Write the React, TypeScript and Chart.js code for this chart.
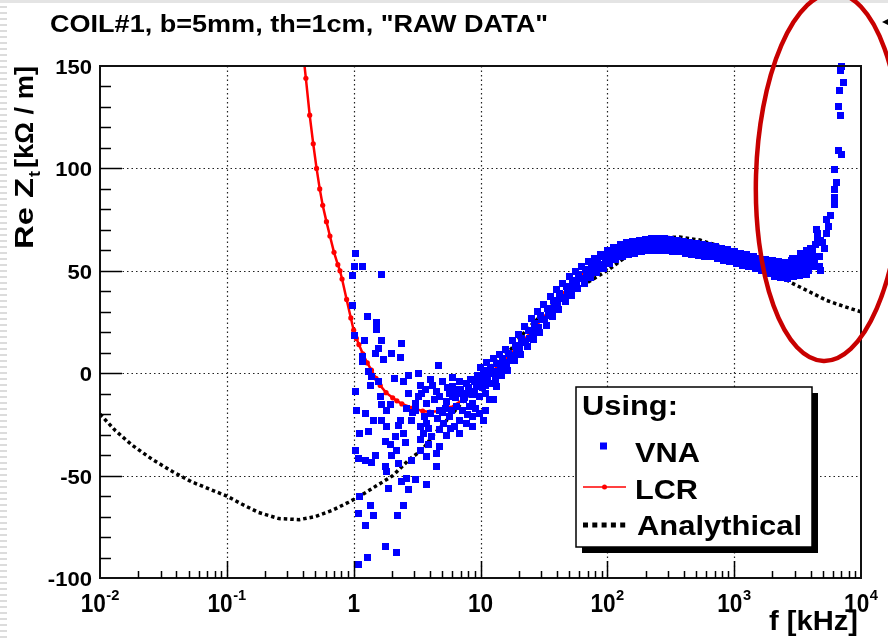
import React, { useEffect, useRef } from "react";
import { Chart, registerables } from "chart.js";

Chart.register(...registerables);

const TITLE = 'COIL#1, b=5mm, th=1cm, "RAW DATA"';
const X_MIN = 0.01;
const X_MAX = 10000;
const Y_MIN = -100;
const Y_MAX = 150;
const xMajorTicks = [0.01, 0.1, 1, 10, 100, 1000, 10000];
const xTickBase = ["10", "10", "1", "10", "10", "10", "10"];
const xTickExp = ["-2", "-1", "", "", "2", "3", "4"];
const yMajorTicks = [-100, -50, 0, 50, 100, 150];
const yTickLabels = ["-100", "-50", "0", "50", "100", "150"];
const legendTitle = "Using:";
const legendLabels = ["VNA", "LCR", "Analythical"];

// VNA (blue squares): [f kHz, Re Zt kOhm/m]
const vnaNoisy: number[][] = [
  [1.04, 58.5], [1.01, 52.3], [1.18, 52.3], [0.986, 47.5], [1.67, 48.3], [0.986, 33.3],
  [1.29, 27.9], [1.52, 24.9], [1.52, 21.1], [1.01, 18.6], [1.21, 16.2], [1.67, 16.2],
  [2.39, 14.6], [1.58, 12.2], [1.48, 9.7], [1.98, 9.4], [2.36, 7.6], [1.72, 6.9],
  [1.18, 8.1], [1.18, 5.6], [4.7, 4.0], [1.31, 0.7], [1.39, -1.7], [2.08, -2.5],
  [2.7, -0.9], [3.24, 0], [2.47, -4.1], [4.01, -3.3], [1.35, -5.8], [3.35, -6.2],
  [1.58, -4.1], [1.04, -9], [2.7, -9.8], [3.24, -11.5], [1.62, -11.5], [4.79, -11.5],
  [6.03, -6.6], [1.67, -15.5], [1.94, -15.5], [3.05, -14.7], [1.06, -18], [1.23, -19.6],
  [1.82, -18], [1.43, -22.9], [1.67, -22.9], [2.33, -22.9], [2.88, -22.9], [3.35, -26.1],
  [1.82, -26.1], [2.25, -25.3], [1.12, -29.3], [1.31, -28.6], [2.12, -31], [2.47, -29.3],
  [3.55, -29.3], [1.77, -33.4], [2.55, -33.9], [1.94, -35], [3.89, -35], [1.03, -37.5],
  [2.19, -37.5], [3.35, -37.5], [1.48, -40], [1.1, -41.5], [2.0, -40], [1.23, -42.4],
  [1.39, -43.7], [2.88, -42.4], [1.77, -45.6], [2.25, -44.3], [4.47, -45.6], [1.82, -48],
  [2.63, -51.3], [3.05, -52.1], [2.4, -53], [3.74, -54.3], [1.88, -56.2], [2.7, -57],
  [1.12, -60.3], [1.35, -64.4], [2.47, -64.4], [1.1, -68.4], [1.43, -69.7], [2.21, -69.7],
  [1.23, -74.6], [1.77, -84.4], [2.17, -87.6], [1.29, -90], [1.1, -93.2],
  [4.79, -18], [5.7, -21.3], [6.84, -22.9], [7.71, -24.5], [3.78, -24.5], [4.79, -27.7],
  [5.37, -30.3], [3.35, -32.6], [4.79, -35.9], [4.47, -39], [3.78, -40.8], [8.71, -14.7],
  [9.77, -11.5], [10.96, -18], [8.71, -26.1], [6.84, -29.3], [6.03, -11.5], [7.71, -9.8],
  [10.96, -9.8], [12.6, -13], [6.84, -9.8], [8.13, -16.4], [9.77, -19.6], [11.7, -13],
  [6.5, -8], [7.7, -5], [9.3, -6.6], [10.5, -2.5], [12.6, 0], [15.1, 3.2], [13.4, -6.6],
  [8.7, -10.6], [3.1, -18], [4.0, -19.6], [5.1, -24.4], [6.5, -16.4], [8.7, -21.3],
  [10.5, -22.9], [5.7, -9.8], [3.78, -14.7], [7.2, -18], [5.4, -14], [6.2, -26],
  [4.3, -13], [9.2, -17], [7.3, -13], [5.0, -19], [3.6, -21], [8.1, -7],
  [3.4, -10], [3.7, -8], [4.2, -6], [4.5, -9], [5.0, -4], [5.5, -7], [6.0, -2],
  [6.8, -4], [7.5, -12], [8.4, -3], [9.0, -9], [3.9, -27], [4.6, -22], [5.3, -17],
  [5.9, -18], [6.3, -12], [7.0, -8], [7.9, -20], [8.9, -4], [9.5, -1], [11, -6],
  [4.1, -31], [5.8, -27], [2.9, -19], [2.6, -17],
];

const vnaBand: number[][] = [
  [10.0, 3], [10.4, -7], [10.8, -1], [11.2, 5], [11.7, -5], [12.1, 1],
  [12.6, 7], [13.1, -3], [13.6, 1], [14.1, 9], [14.7, -1], [15.2, 5],
  [15.8, 11.5], [16.4, 1.5], [17.1, 6], [17.8, 16], [18.5, 6], [19.2, 12],
  [20.0, 19], [20.8, 9], [21.6, 15], [22.4, 23], [23.3, 13], [24.2, 17],
  [25.1, 26.5], [26.1, 16.5], [27.1, 22.5], [28.2, 30], [29.3, 20], [30.4, 26],
  [31.6, 33.5], [32.9, 23.5], [34.1, 28], [35.5, 37.5], [36.9, 27.5], [38.3, 33.5],
  [39.8, 41], [41.4, 31], [43.0, 36.5], [44.7, 44], [46.5, 35], [48.3, 40],
  [50.1, 47], [52.1, 38], [54.1, 43], [56.2, 49.5], [58.4, 41.5], [60.7, 46],
  [63.1, 52], [65.6, 44], [68.1, 48.5], [70.8, 54.5], [73.6, 46.5], [76.5, 51],
  [79.4, 56], [82.6, 49], [85.8, 53], [89.1, 58], [92.7, 51], [96.2, 55],
  [100, 60], [104, 53.5], [108, 57], [112, 61.5], [116, 55.5], [121, 59],
  [126, 63], [131, 57], [136, 60.5], [141, 64], [147, 58], [152, 61.5],
  [158, 64.5], [164, 58.5], [171, 62], [178, 65], [185, 59.5], [192, 62.5],
  [200, 65.5], [208, 60], [216, 63], [224, 66], [233, 60], [242, 63.5],
  [251, 66], [261, 60], [271, 63], [282, 66], [293, 60], [305, 63.5],
  [316, 65.5], [329, 59.5], [341, 63], [355, 65], [369, 59.5], [383, 62.5],
  [398, 64.5], [414, 58.5], [430, 62], [447, 64], [465, 58], [483, 61.5],
  [501, 63.5], [521, 57.5], [541, 61], [562, 63], [584, 57], [607, 60.5],
  [631, 62.5], [656, 57], [681, 60], [708, 62], [736, 56], [765, 59.5],
  [794, 61], [826, 55], [858, 58.5], [891, 60.5], [927, 54.5], [962, 57.5],
  [1000, 59.5], [1040, 53.5], [1080, 57], [1122, 58.5], [1167, 52.5], [1212, 56],
  [1259, 58], [1309, 52], [1360, 55], [1413, 57], [1470, 51], [1526, 54.5],
  [1585, 56], [1648, 50], [1712, 53.5], [1778, 55.5], [1849, 48.5], [1920, 52],
  [1995, 55], [2075, 47], [2155, 51.5], [2239, 54.5], [2329, 46.5], [2418, 50],
  [2512, 54], [2612, 46], [2713, 50.5], [2818, 55], [2931, 47], [3043, 51],
  [3162, 56], [3289, 47.5], [3415, 52], [3548, 57], [3690, 48], [3832, 53],
];

const vnaBandFill: number[][] = [
  [10.2, -4], [10.6, 1.5], [11.4, -2], [11.9, 3], [12.9, 0], [13.4, 4.5],
  [14.4, 2], [14.9, 7], [16.1, 4], [16.7, 9.5], [18.2, 8.5], [18.9, 13.5],
  [20.4, 11.5], [21.2, 17], [22.8, 15.5], [23.7, 21], [25.6, 19], [26.6, 24.5],
  [28.8, 22.5], [29.9, 28], [32.2, 26], [33.5, 31.5], [36.2, 30], [37.6, 35.5],
  [40.6, 33.5], [42.2, 39], [45.6, 37], [47.4, 42.5], [51.1, 40], [53.1, 45.5],
  [57.3, 43], [59.6, 48], [64.4, 46], [66.9, 50.5], [72.2, 48.5], [75.0, 53],
  [81.0, 50.5], [84.2, 55], [90.9, 52.5], [94.4, 57], [102, 54.5], [106, 59],
  [114, 56.5], [119, 60.5], [128, 58.5], [134, 62], [144, 59.5], [149, 63],
  [161, 60.5], [167, 64], [182, 61], [189, 64.5], [204, 61.5], [212, 65],
  [228, 61.5], [237, 65], [256, 61.5], [266, 65], [288, 61.5], [299, 64.5],
  [322, 61], [335, 64], [362, 60.5], [376, 63.5], [406, 60], [422, 63],
  [456, 59.5], [474, 62.5], [511, 59], [531, 62], [573, 58.5], [596, 61.5],
  [644, 58], [669, 61], [722, 57.5], [750, 60.5], [810, 56.5], [842, 59.5],
  [909, 55.5], [944, 59], [1020, 55], [1060, 58], [1144, 54], [1190, 57.5],
  [1284, 53.5], [1335, 56.5], [1441, 52.5], [1498, 55.5], [1617, 51.5], [1680, 54.5],
  [1814, 50.5], [1885, 53.5], [2035, 49], [2115, 53], [2284, 48.5], [2374, 52.5],
  [2562, 48], [2663, 52], [2874, 48.5], [2987, 53], [3225, 49], [3352, 54],
  [3619, 50], [3761, 55],
];

const vnaRise: number[][] = [
  [4074, 53.6], [4169, 61], [4571, 68], [4677, 57], [5129, 61], [5370, 68],
  [5495, 71.5], [5754, 77], [6166, 82.6], [6166, 86], [6166, 89.5], [6166, 99.5],
  [6457, 93], [6607, 108.6], [7079, 107], [6607, 130], [6918, 126], [6761, 138],
  [7244, 142], [6918, 148], [7079, 150], [5370, 75], [4467, 70], [4571, 66],
  [3981, 52], [4266, 55], [4169, 58], [3890, 50], [4365, 63], [4786, 65],
  [5012, 64], [3715, 54], [3981, 57], [3311, 58.5], [3715, 60], [4677, 52],
  [4786, 50], [2884, 56], [3981, 61], [4365, 57], [4266, 52], [3467, 52],
];

// LCR (red line)
const lcrFreq = [
  0.405, 0.42, 0.45, 0.48, 0.51, 0.54, 0.57, 0.61, 0.65, 0.7, 0.75, 0.78, 0.81, 0.88,
  0.95, 1.0, 1.05, 1.1, 1.18, 1.28, 1.38, 1.5, 1.62, 1.8, 2.03, 2.19, 2.4, 2.92, 3.5,
  3.98, 4.8, 5.73, 7.25, 8.5, 10, 12, 14.5, 17, 20, 25, 30, 38, 46, 55, 65, 80, 100,
  130, 170, 220, 280, 350, 450, 600, 800, 1000, 1300, 1700, 2100,
];
const lcrZ = [
  153, 144, 126, 112, 100, 90, 82, 74, 67, 59, 53, 50, 46, 36,
  27, 21, 17, 14, 9.5, 5, 1.5, -2.5, -6, -9.5, -12, -13.5, -15, -17, -18.5,
  -19, -18.5, -17, -13, -9, -4.5, 0, 5, 9, 13.5, 20, 26, 33, 39, 44.5, 48.5, 52.5, 55.5,
  58, 59.5, 60.5, 60.5, 60, 59, 58, 56.5, 55, 53, 51, 49.5,
];

// Analytical (black dotted)
const anaFreq = [
  0.01, 0.0132, 0.0178, 0.0257, 0.0372, 0.0525, 0.0759, 0.1, 0.132, 0.178, 0.257, 0.372,
  0.5, 0.676, 0.912, 1.12, 1.51, 2.04, 2.75, 3.47, 4.27, 5.89, 8.71, 12.9, 17.0, 22.9,
  30.9, 39.8, 56.2, 77.6, 105, 141, 191, 257, 372, 537, 724, 1000, 1413, 1995, 2754,
  3715, 5370, 7413, 10000,
];
const anaZ = [
  -20, -28, -35, -42, -48, -53, -57, -60, -64, -68, -71, -71.5,
  -70, -67, -63, -60, -55, -50, -42, -37.5, -30, -20.5, -8, 5, 11, 21,
  29, 35, 41, 46, 51, 57, 62, 66, 66.5, 65, 62.5, 59, 56, 51, 44.5,
  40.5, 35.5, 32.5, 30,
];

const FONT = '"Liberation Sans", Arial, Helvetica, sans-serif';
const font = (s: number) => `bold ${s}px ${FONT}`;

function drawText(
  ctx: CanvasRenderingContext2D,
  s: string,
  x: number,
  y: number,
  size: number,
  align: "left" | "right" | "center",
  width?: number,
  sx = 1
) {
  ctx.font = font(size);
  const w = ctx.measureText(s).width;
  const k = width ? width / w : sx;
  const dw = w * k;
  const x0 = align === "left" ? x : align === "right" ? x - dw : x - dw / 2;
  ctx.save();
  ctx.translate(x0, y);
  ctx.scale(k, 1);
  ctx.textAlign = "left";
  ctx.textBaseline = "alphabetic";
  ctx.fillText(s, 0, 0);
  ctx.restore();
  return dw;
}

const rootStyle = {
  id: "rootStyle",
  beforeDraw(chart: any) {
    const ctx: CanvasRenderingContext2D = chart.ctx;
    ctx.save();
    ctx.fillStyle = "#ffffff";
    ctx.fillRect(0, 0, chart.width, chart.height);
    ctx.fillStyle = "#e4e4e4";
    ctx.fillRect(0, 0, chart.width, 3);
    ctx.fillStyle = "#dcdcdc";
    for (let y = 6; y < chart.height; y += 6) ctx.fillRect(0, y, 7, 2);
    ctx.restore();
  },
  beforeDatasetsDraw(chart: any) {
    const ctx: CanvasRenderingContext2D = chart.ctx;
    const { left, right, top, bottom } = chart.chartArea;
    const xs = chart.scales.x;
    const ys = chart.scales.y;
    ctx.save();
    ctx.strokeStyle = "#222";
    ctx.lineWidth = 1.2;
    ctx.setLineDash([1.5, 3]);
    xMajorTicks.forEach((v) => {
      if (v <= X_MIN || v >= X_MAX) return;
      const px = Math.round(xs.getPixelForValue(v)) + 0.5;
      ctx.beginPath();
      ctx.moveTo(px, top);
      ctx.lineTo(px, bottom);
      ctx.stroke();
    });
    yMajorTicks.forEach((v) => {
      if (v <= Y_MIN || v >= Y_MAX) return;
      const py = Math.round(ys.getPixelForValue(v)) + 0.5;
      ctx.beginPath();
      ctx.moveTo(left, py);
      ctx.lineTo(right, py);
      ctx.stroke();
    });
    ctx.restore();
  },
  afterDraw(chart: any) {
    const ctx: CanvasRenderingContext2D = chart.ctx;
    const { left, right, top, bottom } = chart.chartArea;
    const xs = chart.scales.x;
    const ys = chart.scales.y;
    ctx.save();
    // frame
    ctx.strokeStyle = "#111";
    ctx.lineWidth = 2;
    ctx.strokeRect(left, top, right - left, bottom - top);
    // ticks
    ctx.lineWidth = 1.5;
    ctx.strokeStyle = "#000";
    ctx.beginPath();
    for (let d = 0.01; d < X_MAX; d *= 10) {
      for (let m = 1; m <= 9; m++) {
        const v = d * m;
        if (v <= X_MIN * 1.001 || v >= X_MAX * 0.999) continue;
        const px = Math.round(xs.getPixelForValue(v)) + 0.5;
        const len = m === 1 ? 17 : 7;
        ctx.moveTo(px, bottom);
        ctx.lineTo(px, bottom - len);
      }
    }
    for (let v = Y_MIN + 10; v < Y_MAX; v += 10) {
      const py = Math.round(ys.getPixelForValue(v)) + 0.5;
      const len = v % 50 === 0 ? 22 : 11;
      ctx.moveTo(left, py);
      ctx.lineTo(left + len, py);
    }
    ctx.stroke();

    ctx.fillStyle = "#000";
    // y tick labels
    yMajorTicks.forEach((v, i) => {
      const py = ys.getPixelForValue(v);
      drawText(ctx, yTickLabels[i], 92, py + 8, 21, "right", undefined, 1.05);
    });
    // x tick labels
    xMajorTicks.forEach((v, i) => {
      const px = xs.getPixelForValue(v);
      ctx.font = font(26);
      const bw = ctx.measureText(xTickBase[i]).width * 0.87;
      let ew = 0;
      if (xTickExp[i]) {
        ctx.font = font(14);
        ew = ctx.measureText(xTickExp[i]).width * 1.05 + 0.5;
      }
      const x0 = px - (bw + ew) / 2;
      drawText(ctx, xTickBase[i], x0, 611.5, 26, "left", undefined, 0.87);
      if (xTickExp[i]) drawText(ctx, xTickExp[i], x0 + bw + 0.5, 599.5, 14, "left", undefined, 1.05);
    });
    // title
    drawText(ctx, TITLE, 50, 32, 23, "left", 498);
    // x axis title
    drawText(ctx, "f [kHz]", 858, 630, 27, "right", 89);
    // y axis title (rotated)
    ctx.save();
    ctx.translate(33, 249);
    ctx.rotate(-Math.PI / 2);
    drawText(ctx, "Re Z", 0, 0, 25, "left", 71);
    drawText(ctx, "t", 72, 7, 16, "left", 6);
    drawText(ctx, "[k\u03A9 / m]", 81, 0, 25, "left", 102);
    ctx.restore();

    // legend with shadow
    const lx = 576, ly = 387, lw = 236, lh = 160;
    ctx.fillStyle = "#000";
    ctx.fillRect(lx + 6, ly + 6, lw, lh);
    ctx.fillStyle = "#fff";
    ctx.fillRect(lx, ly, lw, lh);
    ctx.strokeStyle = "#000";
    ctx.lineWidth = 1.5;
    ctx.strokeRect(lx, ly, lw, lh);
    ctx.fillStyle = "#000";
    drawText(ctx, legendTitle, 582, 415, 27, "left", 96);
    ctx.fillStyle = "#0000ff";
    ctx.fillRect(600, 442.5, 7, 7);
    ctx.fillStyle = "#000";
    drawText(ctx, legendLabels[0], 635, 461.5, 28, "left", 65);
    ctx.strokeStyle = "#ff0000";
    ctx.lineWidth = 1.5;
    ctx.beginPath();
    ctx.moveTo(583, 487);
    ctx.lineTo(626, 487);
    ctx.stroke();
    ctx.fillStyle = "#ff0000";
    ctx.beginPath();
    ctx.arc(604.5, 487, 2.5, 0, Math.PI * 2);
    ctx.fill();
    ctx.fillStyle = "#000";
    drawText(ctx, legendLabels[1], 635, 499, 28, "left", 63);
    for (let k = 0; k < 5; k++) ctx.fillRect(583 + k * 9.3, 522.5, 5, 5);
    drawText(ctx, legendLabels[2], 637, 535, 28, "left", 165);

    // red annotation ellipse
    ctx.strokeStyle = "#c80000";
    ctx.lineWidth = 4.5;
    ctx.beginPath();
    ctx.ellipse(829, 177, 73, 184, 0.03, 0, Math.PI * 2);
    ctx.stroke();
    // small arrow head at the top-right edge
    ctx.fillStyle = "#000";
    ctx.beginPath();
    ctx.moveTo(882, 22);
    ctx.lineTo(888, 19);
    ctx.lineTo(888, 25);
    ctx.closePath();
    ctx.fill();
    ctx.restore();
  },
};

function makeSquare(size: number, color: string) {
  const c = document.createElement("canvas");
  c.width = size;
  c.height = size;
  const g = c.getContext("2d");
  if (g) {
    g.fillStyle = color;
    g.fillRect(0, 0, size, size);
  }
  return c;
}

export default function App() {
  const ref = useRef<HTMLCanvasElement>(null);
  useEffect(() => {
    const canvas = ref.current;
    if (!canvas) return;
    const vna = [...vnaNoisy, ...vnaBand, ...vnaBandFill, ...vnaRise].map(([x, y]) => ({ x, y }));
    const blueSquare = makeSquare(7, "#0000ff");
    const chart = new Chart(canvas, {
      type: "scatter",
      data: {
        datasets: [
          {
            label: legendLabels[0],
            data: vna,
            showLine: false,
            pointStyle: blueSquare,
            pointRadius: 3.5,
            pointBackgroundColor: "#0000ff",
            pointBorderWidth: 0,
            order: 0,
            clip: 3,
          } as any,
          {
            label: legendLabels[1],
            data: lcrFreq.map((x, i) => ({ x, y: lcrZ[i] })),
            showLine: true,
            borderColor: "#ff0000",
            borderWidth: 2.5,
            pointStyle: "circle",
            pointRadius: 2.6,
            pointBackgroundColor: "#ff0000",
            pointBorderWidth: 0,
            order: 1,
            clip: 0,
          } as any,
          {
            label: legendLabels[2],
            data: anaFreq.map((x, i) => ({ x, y: anaZ[i] })),
            showLine: true,
            borderColor: "#000000",
            borderWidth: 3.5,
            borderDash: [3.5, 3],
            pointRadius: 0,
            order: 2,
            clip: 0,
          } as any,
        ],
      },
      options: {
        responsive: false,
        maintainAspectRatio: false,
        devicePixelRatio: 1,
        animation: false,
        events: [],
        layout: { padding: { left: 100, right: 27, top: 66, bottom: 60 } },
        plugins: { legend: { display: false }, tooltip: { enabled: false } },
        scales: {
          x: { type: "logarithmic", min: X_MIN, max: X_MAX, display: false },
          y: { type: "linear", min: Y_MIN, max: Y_MAX, display: false },
        },
      },
      plugins: [rootStyle],
    });
    return () => chart.destroy();
  }, []);
  return (
    <div style={{ position: "absolute", left: 0, top: 0, width: 888, height: 638, background: "#fff" }}>
      <canvas ref={ref} width={888} height={638} style={{ display: "block", width: 888, height: 638 }} />
    </div>
  );
}
